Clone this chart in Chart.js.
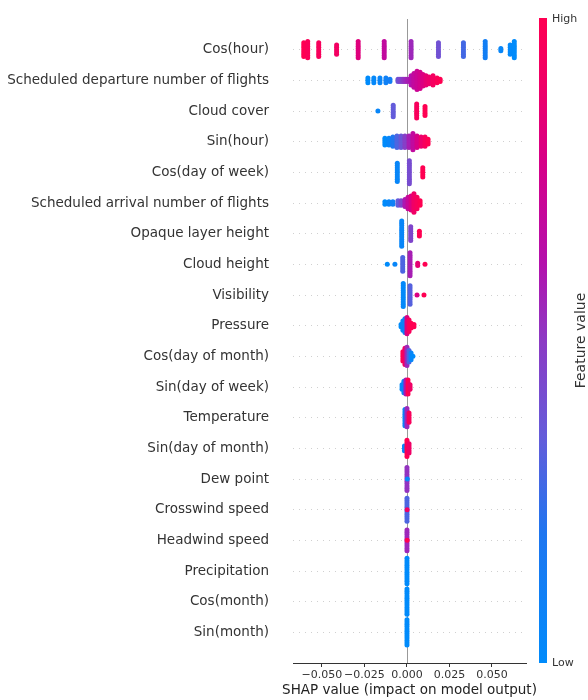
<!DOCTYPE html>
<html>
<head>
<meta charset="utf-8">
<script src="https://cdn.jsdelivr.net/npm/chart.js@4.4.1/dist/chart.umd.min.js"></script>
<style>
  html, body { margin: 0; padding: 0; background: #fff; }
  #wrap { width: 588px; height: 700px; }
</style>
</head>
<body>
<div id="wrap"><canvas id="shapChart" width="588" height="700"></canvas></div>
<script>
// SHAP summary (beeswarm) – top row first

const features = [
  "Cos(hour)",
  "Scheduled departure number of flights",
  "Cloud cover",
  "Sin(hour)",
  "Cos(day of week)",
  "Scheduled arrival number of flights",
  "Opaque layer height",
  "Cloud height",
  "Visibility",
  "Pressure",
  "Cos(day of month)",
  "Sin(day of week)",
  "Temperature",
  "Sin(day of month)",
  "Dew point",
  "Crosswind speed",
  "Headwind speed",
  "Precipitation",
  "Cos(month)",
  "Sin(month)"
];

// SHAP value of each stacked group of dots, per feature
const shapX = [
  [-0.0607, -0.0584, -0.0519, -0.0414, -0.0287, -0.0134, 0.0024, 0.0185, 0.0332, 0.0460, 0.0552, 0.0607, 0.0631],
  [-0.0230, -0.0195, -0.0159, -0.0124, -0.0100, -0.0053, -0.0041, -0.0029, -0.0018, -0.0006, 0.0006, 0.0024, 0.0041, 0.0059, 0.0077, 0.0094, 0.0112, 0.0130, 0.0153, 0.0177, 0.0195],
  [-0.0171, -0.0081, 0.0057, 0.0106],
  [-0.0130, -0.0106, -0.0083, -0.0059, -0.0035, -0.0012, 0.0012, 0.0035, 0.0059, 0.0083, 0.0106, 0.0124],
  [-0.0057, 0.0014, 0.0093],
  [-0.0130, -0.0106, -0.0083, -0.0053, -0.0035, -0.0012, 0.0006, 0.0024, 0.0041, 0.0059, 0.0077],
  [-0.0031, 0.0022, 0.0073],
  [-0.0116, -0.0071, -0.0025, 0.0018, 0.0063, 0.0106],
  [-0.0022, 0.0018, 0.0059, 0.0100],
  [-0.0035, -0.0024, -0.0012, 0.0000, 0.0012, 0.0024, 0.0041],
  [-0.0024, -0.0012, 0.0000, 0.0012, 0.0024, 0.0035],
  [-0.0029, -0.0018, -0.0006, 0.0006, 0.0018],
  [-0.0012, 0.0000, 0.0012],
  [-0.0015, 0.0000, 0.0012],
  [0.0000, 0.0002],
  [0.0000, 0.0001],
  [0.0000, 0.0001],
  [0.0000],
  [0.0000],
  [0.0000]
];

// how many dots sit in each group
const clusterSize = [
  [7, 8, 7, 5, 8, 8, 8, 7, 7, 8, 2, 5, 8],
  [3, 3, 3, 3, 2, 2, 2, 2, 2, 2, 2, 5, 7, 9, 8, 6, 5, 4, 5, 3, 2],
  [1, 6, 7, 5],
  [4, 4, 5, 6, 6, 6, 6, 8, 6, 5, 5, 3],
  [9, 11, 5],
  [2, 2, 2, 3, 3, 4, 6, 7, 9, 6, 3],
  [12, 7, 3],
  [1, 1, 7, 11, 2, 1],
  [11, 9, 1, 1],
  [2, 5, 7, 8, 6, 3, 2],
  [5, 8, 9, 6, 4, 1],
  [3, 6, 7, 7, 3],
  [8, 9, 5],
  [3, 8, 5],
  [11, 1],
  [11, 1],
  [10, 1],
  [12],
  [12],
  [12]
];

// feature value of each group (0 = low, 1 = high)
const featureVal = [
  [1.0, 0.97, 0.95, 0.92, 0.82, 0.68, 0.55, 0.4, 0.28, 0.12, 0.05, 0.02, 0.0],
  [0.0, 0.03, 0.06, 0.1, 0.12, 0.4, 0.44, 0.48, 0.52, 0.55, 0.58, 0.62, 0.68, 0.72, 0.76, 0.8, 0.85, 0.88, 0.93, 0.97, 1.0],
  [0.05, 0.35, 0.95, 1.0],
  [0.0, 0.05, 0.2, 0.3, 0.38, 0.48, 0.58, 0.68, 0.78, 0.88, 0.95, 1.0],
  [0.05, 0.42, 1.0],
  [0.0, 0.05, 0.1, 0.35, 0.45, 0.6, 0.7, 0.8, 0.9, 0.95, 1.0],
  [0.05, 0.45, 1.0],
  [0.0, 0.05, 0.3, 0.58, 0.85, 1.0],
  [0.02, 0.32, 0.8, 1.0],
  [0.0, 0.05, 0.1, 0.8, 0.95, 1.0, 1.0],
  [1.0, 0.9, 0.55, 0.3, 0.05, 0.0],
  [0.0, 0.1, 0.6, 1.0, 0.9],
  [0.1, 0.55, 0.95],
  [0.05, 1.0, 0.9],
  [0.52, 0.05],
  [0.3, 0.9],
  [0.55, 1.0],
  [0.0],
  [0.0],
  [0.0]
];

const xTicks = [-0.05, -0.025, 0, 0.025, 0.05];
const xTitle = "SHAP value (impact on model output)";

/* ---------- colour map (blue -> purple -> red) ---------- */

const cmapStops = [
  [0.0, [0, 139, 251]],
  [0.2, [30, 118, 240]],
  [0.35, [100, 92, 218]],
  [0.5, [140, 58, 196]],
  [0.62, [180, 16, 172]],
  [0.78, [215, 0, 135]],
  [0.9, [240, 0, 102]],
  [1.0, [255, 0, 82]]
];

function redBlue(t) {
  t = Math.max(0, Math.min(1, t));
  for (let i = 1; i < cmapStops.length; i++) {
    const [t1, c1] = cmapStops[i];
    const [t0, c0] = cmapStops[i - 1];
    if (t <= t1) {
      const f = (t - t0) / (t1 - t0);
      const c = c0.map((v, k) => Math.round(v + (c1[k] - v) * f));
      return `rgb(${c[0]},${c[1]},${c[2]})`;
    }
  }
  return "rgb(255,0,82)";
}

/* ---------- points (stack each group vertically like a beeswarm) ---------- */

const DOT_STEP = 0.075; // vertical gap between stacked dots, in rows
const points = [];
features.forEach((name, row) => {
  const yBase = features.length - 1 - row;
  shapX[row].forEach((v, j) => {
    const n = clusterSize[row][j];
    for (let k = 0; k < n; k++) {
      points.push({ x: v, y: yBase + (k - (n - 1) / 2) * DOT_STEP, c: featureVal[row][j] });
    }
  });
});

/* ---------- plugins ---------- */

const zeroLine = {
  id: "zeroLine",
  beforeDatasetsDraw(chart) {
    const { ctx, chartArea, scales } = chart;
    const x = Math.round(scales.x.getPixelForValue(0)) + 0.5;
    ctx.save();
    ctx.strokeStyle = "#999999";
    ctx.lineWidth = 1;
    ctx.beginPath();
    ctx.moveTo(x, chartArea.top);
    ctx.lineTo(x, chartArea.bottom);
    ctx.stroke();
    ctx.restore();
  }
};

// x title drawn by hand: Chart.js squeezes it to the axis width otherwise
const axisTitle = {
  id: "axisTitle",
  afterDraw(chart) {
    const { ctx, chartArea } = chart;
    ctx.save();
    ctx.fillStyle = "#222222";
    ctx.font = "13.5px 'DejaVu Sans'";
    ctx.textAlign = "center";
    ctx.textBaseline = "middle";
    ctx.fillText(xTitle, (chartArea.left + chartArea.right) / 2, 690);
    ctx.restore();
  }
};

const colorBar = {
  id: "colorBar",
  afterDraw(chart) {
    const { ctx, chartArea } = chart;
    const x0 = 539, w = 8;
    const top = chartArea.top - 1, bottom = chartArea.bottom;
    const grad = ctx.createLinearGradient(0, bottom, 0, top);
    cmapStops.forEach(([t]) => grad.addColorStop(t, redBlue(t)));
    ctx.save();
    ctx.fillStyle = grad;
    ctx.fillRect(x0, top, w, bottom - top);

    ctx.fillStyle = "#333333";
    ctx.font = "11px 'DejaVu Sans'";
    ctx.textAlign = "left";
    ctx.textBaseline = "middle";
    ctx.fillText("High", x0 + w + 5, top + 1);
    ctx.fillText("Low", x0 + w + 5, bottom);

    ctx.font = "14px 'DejaVu Sans'";
    ctx.translate(581, (top + bottom) / 2);
    ctx.rotate(-Math.PI / 2);
    ctx.textAlign = "center";
    ctx.fillText("Feature value", 0, 0);
    ctx.restore();
  }
};

/* ---------- chart ---------- */

Chart.defaults.font.family = "'DejaVu Sans', sans-serif";

new Chart(document.getElementById("shapChart").getContext("2d"), {
  type: "scatter",
  data: {
    datasets: [
      {
        data: points,
        pointRadius: 2.5,
        pointHoverRadius: 2.5,
        borderWidth: 0,
        backgroundColor: (ctx) => (ctx.raw ? redBlue(ctx.raw.c) : "#000")
      }
    ]
  },
  options: {
    responsive: false,
    animation: false,
    events: [],
    layout: { padding: { top: 19, right: 62, left: 0, bottom: 0 } },
    plugins: {
      legend: { display: false },
      tooltip: { enabled: false }
    },
    scales: {
      x: {
        type: "linear",
        min: -0.06704,
        max: 0.07,
        afterBuildTicks: (scale) => {
          scale.ticks = xTicks.map((v) => ({ value: v }));
        },
        afterFit: (scale) => {
          scale.height = 37;
          scale.paddingLeft = 0;
          scale.paddingRight = 0;
        },
        ticks: {
          autoSkip: false,
          maxRotation: 0,
          padding: 2,
          color: "#333333",
          font: { size: 11 },
          callback: (v) => v.toFixed(3).replace("-", "\u2212")
        },
        grid: {
          drawOnChartArea: false,
          drawTicks: true,
          tickLength: 4,
          tickColor: "#333333"
        },
        border: { display: true, color: "#333333", width: 1 },
        title: { display: false }
      },
      y: {
        type: "linear",
        min: -1,
        max: 20,
        afterBuildTicks: (scale) => {
          scale.ticks = features.map((_, i) => ({ value: i }));
        },
        afterFit: (scale) => {
          scale.width = 293;
          scale.paddingTop = 0;
          scale.paddingBottom = 0;
        },
        ticks: {
          autoSkip: false,
          padding: 24,
          color: "#333333",
          font: { size: 13.5 },
          callback: (v) => features[features.length - 1 - v]
        },
        grid: {
          color: "#d0d0d0",
          lineWidth: 1,
          drawTicks: false
        },
        border: { display: false, dash: [1, 5] }
      }
    }
  },
  plugins: [zeroLine, axisTitle, colorBar]
});
</script>
</body>
</html>
